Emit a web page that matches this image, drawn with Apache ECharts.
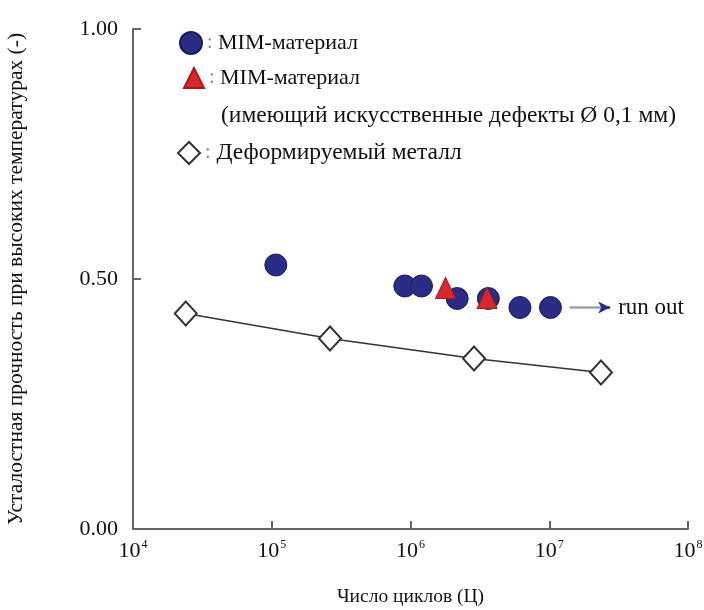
<!DOCTYPE html>
<html>
<head>
<meta charset="utf-8">
<script src="https://cdn.jsdelivr.net/npm/echarts@6/dist/echarts.min.js"></script>
<style>html,body{margin:0;padding:0;background:#fff}#c{width:704px;height:610px}</style>
</head>
<body>
<div id="c"></div>
<script>
// ---- data ----
const mimCycles = [1.07e5, 9.1e5, 1.2e6, 2.17e6, 3.64e6, 6.15e6, 1.02e7];
const mimStrength = [0.528, 0.486, 0.486, 0.461, 0.461, 0.443, 0.443];
const defectCycles = [1.79e6, 3.56e6];
const defectStrength = [0.482, 0.462];
const wroughtCycles = [2.4e4, 2.63e5, 2.87e6, 2.36e7];
const wroughtStrength = [0.431, 0.381, 0.341, 0.313];
const runOutFrom = [1.4e7, 0.443];
const runOutHead = [2.45e7, 0.443];
const runOutTo = [2.75e7, 0.443];
const yTicks = [0, 0.5, 1.0];
const xTickExp = [4, 5, 6, 7, 8];
const seriesNames = ['MIM-материал', 'MIM-материал (дефекты)', 'Деформируемый металл'];
const legendTexts = ['MIM-материал', 'MIM-материал', 'Деформируемый металл'];
const legendSecondLine = '(имеющий искусственные дефекты Ø 0,1 мм)';
const xName = 'Число циклов (Ц)';
const yName = 'Усталостная прочность при высоких температурах (-)';
const runOutLabel = 'run out';

const FONT = '"Liberation Serif", "DejaVu Serif", serif';
const zip = (a, b) => a.map((v, i) => [v, b[i]]);
const navy = '#2b2c86', red = '#d8282c', grey = '#333';

const chart = echarts.init(document.getElementById('c'));
const legendCommon = {
  orient: 'vertical', padding: 0, itemWidth: 22, itemHeight: 22, selectedMode: false,
  textStyle: {
    fontFamily: FONT, fontSize: 22, color: '#111',
    rich: { c: { fontFamily: FONT, fontSize: 20, color: '#888' },
            t: { fontFamily: FONT, fontSize: 22, color: '#111' },
            w: { fontFamily: FONT, fontSize: 23.5, color: '#111' } }
  }
};
chart.setOption({
  animation: false,
  backgroundColor: '#fff',
  grid: { left: 133, right: 16, top: 29, bottom: 81, outerBoundsMode: 'none', containLabel: false },
  legend: [
    Object.assign({}, legendCommon, { left: 179, top: 31,
      data: [{ name: seriesNames[0], icon: 'circle' }],
      formatter: () => '{c|:}{t| ' + legendTexts[0] + '}' }),
    Object.assign({}, legendCommon, { left: 183, top: 67, itemWidth: 20, itemHeight: 20,
      data: [{ name: seriesNames[1], icon: 'triangle' }],
      formatter: () => '{c|:}{t| ' + legendTexts[1] + '}' }),
    Object.assign({}, legendCommon, { left: 216, top: 104, itemWidth: 0, itemHeight: 22,
      data: [{ name: seriesNames[1], icon: 'none' }],
      formatter: () => '{w|' + legendSecondLine + '}' }),
    Object.assign({}, legendCommon, { left: 177, top: 141,
      data: [{ name: seriesNames[2], icon: 'diamond',
               itemStyle: { color: '#fff', borderColor: grey, borderWidth: 2 } }],
      formatter: () => '{c|:}{w| ' + legendTexts[2] + '}' })
  ],
  xAxis: {
    type: 'log', logBase: 10, min: Math.pow(10, xTickExp[0]), max: Math.pow(10, xTickExp[xTickExp.length - 1]),
    name: xName, nameLocation: 'middle', nameGap: 58,
    nameTextStyle: { fontFamily: FONT, fontSize: 19.5, color: '#111' },
    axisLine: { lineStyle: { color: '#666', width: 2 } },
    axisTick: { inside: true, length: 8, lineStyle: { color: '#666', width: 2 } },
    splitLine: { show: false }, minorTick: { show: false },
    axisLabel: {
      margin: 10,
      formatter: v => '{b|10}{s|' + Math.round(Math.log10(v)) + '}',
      rich: {
        b: { fontFamily: FONT, fontSize: 22, color: '#111' },
        s: { fontFamily: FONT, fontSize: 12, color: '#111', verticalAlign: 'bottom', padding: [0, 0, 12, 1] }
      }
    }
  },
  yAxis: {
    type: 'value', min: yTicks[0], max: yTicks[yTicks.length - 1], interval: 0.5,
    name: yName, nameLocation: 'middle', nameGap: 106,
    nameTextStyle: { fontFamily: FONT, fontSize: 21.5, color: '#111' },
    axisLine: { show: true, lineStyle: { color: '#666', width: 2 } },
    axisTick: { show: true, inside: true, length: 8, lineStyle: { color: '#666', width: 2 } },
    splitLine: { show: false },
    axisLabel: { margin: 15, fontFamily: FONT, fontSize: 22, color: '#111', formatter: v => v.toFixed(2) }
  },
  series: [
    {
      name: seriesNames[2], type: 'line', data: zip(wroughtCycles, wroughtStrength),
      symbol: 'diamond', symbolSize: [22, 24], showSymbol: true,
      itemStyle: { color: '#fff', borderColor: grey, borderWidth: 2 },
      lineStyle: { color: grey, width: 1.6 }, z: 2
    },
    {
      name: seriesNames[0], type: 'scatter', data: zip(mimCycles, mimStrength),
      symbol: 'circle', symbolSize: 22,
      itemStyle: { color: navy, borderColor: '#1c1c5c', borderWidth: 1, opacity: 1 }, z: 3,
      markLine: {
        silent: true, symbol: ['none', 'none'],
        lineStyle: { color: '#9aa0c2', width: 2.5, type: 'solid' },
        label: { show: false },
        data: [[{ coord: runOutFrom }, { coord: runOutHead }]]
      }
    },
    {
      name: seriesNames[1], type: 'scatter', data: zip(defectCycles, defectStrength),
      symbol: 'triangle', symbolSize: [20, 21],
      itemStyle: { color: red, borderColor: '#a81a1e', borderWidth: 1, opacity: 1 }, z: 4,
      markLine: {
        silent: true, symbol: ['none', 'arrow'], symbolSize: [9, 12],
        lineStyle: { color: navy, width: 2.5, type: 'solid', opacity: 1 },
        label: { show: true, position: 'end', distance: 8, formatter: runOutLabel,
                 fontFamily: FONT, fontSize: 23, color: '#111' },
        data: [[{ coord: runOutHead }, { coord: runOutTo }]]
      }
    }
  ]
});
</script>
</body>
</html>
